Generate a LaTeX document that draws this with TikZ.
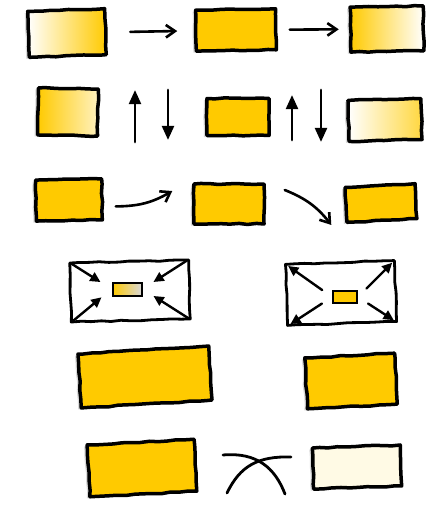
\documentclass[tikz,border=0pt]{standalone}
\definecolor{sunny}{RGB}{255, 202, 0}
\usetikzlibrary{arrows.meta, shadows, decorations.pathmorphing}
\tikzset{
	card/.style={rectangle, draw=black, fill=sunny, line width=3.5pt, line join=round, inner sep=0pt, decorate, decoration={random steps, segment length=9pt, amplitude=0.6pt}, drop shadow={shadow xshift=-3pt, shadow yshift=-1.5pt, opacity=0.3}},
	frame/.style={rectangle, draw=black, fill=white, line width=2.8pt, line join=round, inner sep=0pt, decorate, decoration={random steps, segment length=10pt, amplitude=0.6pt}},
	chip/.style={rectangle, draw=black, fill=sunny, line width=2pt, inner sep=0pt},
	arrow/.style={-{Straight Barb[length=3.2mm, width=4.4mm]}, line width=2.6pt, line cap=round},
	fatarrow/.style={-{Triangle[length=3.6mm, width=3.4mm]}, line width=2.4pt, line cap=round},
	bigarrow/.style={-{Triangle[length=5mm, width=4.2mm]}, line width=2.8pt, line cap=round},
	stroke/.style={line width=2.8pt, line cap=round},
}
\begin{document}
\begin{tikzpicture}[x=1pt, y=-1pt]
	\useasboundingbox (0,0) rectangle (438,505);
	% row 1
	\node[card, left color=white, right color=sunny, minimum width=77pt, minimum height=46pt, rotate=2] (slabA) at (67,33) {};
	\node[card, minimum width=80pt, minimum height=41pt, rotate=1] (slabB) at (236,30) {};
	\node[card, left color=sunny, right color=white, minimum width=73pt, minimum height=45pt, rotate=1] (slabC) at (387,29) {};
	\draw[arrow, shorten <=23pt, shorten >=17pt] (slabA) -- (slabB);
	\draw[arrow, shorten <=12pt, shorten >=10pt] (slabB) -- (slabC);
	% row 2
	\node[card, left color=sunny, right color=sunny!25, minimum width=60pt, minimum height=47pt, rotate=-1] (slabD) at (68,112) {};
	\node[card, minimum width=62pt, minimum height=37pt] (slabE) at (238,117) {};
	\node[card, left color=white, right color=sunny!75, minimum width=73pt, minimum height=41pt, rotate=1.5] (slabF) at (385,120) {};
	\coordinate (upA1) at (135,142);
	\coordinate (upA2) at (135,90);
	\coordinate (dnA1) at (168,90);
	\coordinate (dnA2) at (168,140);
	\coordinate (upB1) at (292,140);
	\coordinate (upB2) at (292,95);
	\coordinate (dnB1) at (321,90);
	\coordinate (dnB2) at (321,142);
	\draw[bigarrow] (upA1) -- (upA2);
	\draw[bigarrow] (dnA1) -- (dnA2);
	\draw[bigarrow] (upB1) -- (upB2);
	\draw[bigarrow] (dnB1) -- (dnB2);
	% row 3
	\node[card, minimum width=66pt, minimum height=41pt, rotate=1] (slabG) at (69,200) {};
	\node[card, minimum width=70pt, minimum height=40pt] (slabH) at (229,204) {};
	\node[card, minimum width=70pt, minimum height=35pt, rotate=3] (slabI) at (381,203) {};
	\draw[arrow] ([shift={(12,7)}]slabG.east) to[bend right=15] ([shift={(-20,-13)}]slabH.west);
	\draw[arrow] ([shift={(19,-14)}]slabH.east) to[bend left=15] ([shift={(-13,20)}]slabI.west);
	% row 4
	\node[frame, minimum width=119pt, minimum height=59pt, rotate=1.5] (frameJ) at (130,291) {};
	\node[chip, left color=sunny, right color=gray!30, minimum width=29pt, minimum height=13pt] (chipJ) at (127,289) {};
	\foreach \c/\t in {north west/west, south west/west, north east/east, south east/east}
		\draw[fatarrow, shorten <=4pt, shorten >=13pt] (frameJ.\c) -- (chipJ.\t);
	\node[frame, minimum width=109pt, minimum height=61pt, rotate=2] (frameK) at (341,293) {};
	\node[chip, minimum width=24pt, minimum height=12pt] (chipK) at (345,297) {};
	\foreach \t/\c in {west/north west, west/south west, east/north east, east/south east}
		\draw[fatarrow, shorten <=12pt, shorten >=5pt] (chipK.\t) -- (frameK.\c);
	% row 5
	\node[card, minimum width=131pt, minimum height=54pt, rotate=3.5] (slabL) at (145,377) {};
	\node[card, minimum width=90pt, minimum height=51pt, rotate=3] (slabM) at (351,381) {};
	% row 6
	\node[card, minimum width=107pt, minimum height=52pt, rotate=3] (slabN) at (142,468) {};
	\node[card, fill=sunny!10, minimum width=88pt, minimum height=41pt, rotate=2] (slabO) at (357,467) {};
	\coordinate (crossA1) at (223,455);
	\coordinate (crossA2) at (285,494);
	\coordinate (crossB1) at (227,493);
	\coordinate (crossB2) at (291,457);
	\draw[stroke] (crossA1) .. controls (257,452) and (275,468) .. (crossA2);
	\draw[stroke] (crossB1) .. controls (240,466) and (258,456) .. (crossB2);
\end{tikzpicture}
\end{document}
